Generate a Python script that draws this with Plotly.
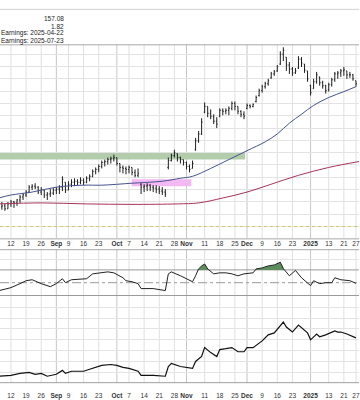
import plotly.graph_objects as go

# ---------------- data ----------------
# trading-day index (0 = 2024-08-12)
bar_idx = list(range(-4, 115))
bar_open = [132.4,132.0,132.2,131.6,132.6,133.0,132.8,133.4,134.0,134.4,135.0,136.0,136.2,136.0,135.0,135.4,134.4,134.6,134.8,135.4,
            135.6,136.0,137.0,135.4,136.6,137.0,137.2,137.0,137.4,137.0,137.8,138.2,139.2,139.6,140.2,141.0,141.2,141.6,141.8,142.0,
            140.8,140.0,139.8,139.6,140.0,139.0,138.4,136.6,136.0,136.2,136.4,136.0,135.8,135.6,135.2,135.0,140.0,141.4,142.4,142.8,
            142.0,141.6,141.0,140.2,139.8,143.6,145.4,146.8,151.2,152.4,151.0,150.4,149.4,150.4,151.6,151.4,151.6,152.0,153.0,152.4,
            151.4,150.8,152.0,152.6,152.4,153.4,154.6,155.6,156.4,157.0,158.2,159.0,159.6,161.0,163.0,162.4,160.8,160.0,159.2,160.2,
            162.0,161.0,159.6,156.6,156.0,157.4,158.4,157.2,156.6,155.8,156.8,157.8,159.0,159.2,159.6,159.6,158.8,158.8,157.6]
bar_high = [132.8,133.0,132.6,133.0,133.4,133.2,133.6,134.4,134.8,135.4,136.4,136.6,136.8,136.2,136.0,135.4,135.0,135.6,135.8,136.0,
            136.4,138.2,137.0,137.2,137.6,137.8,137.6,138.0,137.8,138.2,138.6,139.6,140.0,140.6,141.4,141.6,142.0,142.2,142.6,142.0,
            140.8,140.4,140.2,140.4,140.0,139.6,139.8,136.8,136.6,136.8,136.6,136.4,136.4,136.2,136.0,135.6,142.0,142.8,143.6,142.8,
            142.2,141.6,141.2,140.6,141.4,146.0,147.4,150.0,153.2,152.4,151.8,150.8,150.2,152.0,152.0,152.0,152.4,153.4,153.4,152.4,
            151.6,151.4,153.0,152.8,153.0,154.6,156.0,156.8,157.4,158.0,159.4,159.8,160.8,163.6,164.4,162.4,161.4,160.4,160.2,162.6,
            162.4,161.0,159.6,156.8,158.0,159.4,158.4,157.6,156.8,157.2,158.2,159.4,159.6,160.0,160.4,159.6,159.4,159.0,157.6]
bar_low = [131.2,131.4,131.2,131.6,132.0,131.8,132.2,132.8,133.4,134.0,134.8,135.4,135.6,134.6,134.4,133.8,133.4,134.0,134.4,134.6,
           134.6,135.2,134.8,135.4,136.0,136.2,136.4,136.6,136.4,136.8,137.2,138.0,138.6,139.0,139.8,140.2,140.6,140.8,141.2,140.4,
           139.0,138.8,138.6,138.8,138.4,138.0,138.0,134.6,135.0,135.2,135.2,135.0,134.8,134.6,134.4,134.0,139.6,141.2,142.0,141.2,
           140.8,140.4,139.6,139.0,139.8,143.4,145.0,146.6,151.0,150.2,149.8,148.8,148.0,150.2,150.6,150.8,150.6,151.6,151.6,150.8,
           150.2,149.8,151.8,152.0,152.2,153.2,154.4,155.2,156.0,156.6,158.0,158.6,159.4,160.8,161.6,159.6,159.0,158.6,159.0,160.0,
           160.4,159.2,157.4,154.6,156.0,157.0,156.6,156.0,155.0,155.4,156.4,157.4,158.0,158.4,158.6,158.0,158.2,157.6,156.4]
bar_close = [132.0,132.2,131.6,132.6,133.0,132.8,133.4,134.0,134.4,135.0,136.0,136.2,136.0,135.0,135.6,134.4,134.6,134.8,135.4,135.6,
             136.0,137.6,135.4,136.6,137.0,137.2,137.0,137.4,137.0,137.8,138.2,139.2,139.6,140.2,141.0,141.2,141.6,141.8,142.0,140.8,
             140.0,139.8,139.6,140.0,139.0,138.4,138.8,136.0,136.2,136.4,136.0,135.8,135.6,135.2,135.0,134.6,141.4,142.4,143.0,142.0,
             141.6,141.0,140.2,139.6,140.8,145.4,146.8,149.2,152.4,151.0,150.4,149.4,148.8,151.6,151.4,151.6,152.0,153.0,152.4,151.4,
             150.8,150.4,152.6,152.4,152.8,154.2,155.6,156.4,157.0,157.6,159.0,159.4,160.4,163.0,163.8,160.8,160.0,159.2,159.6,162.0,
             161.2,159.8,158.0,155.2,157.4,158.8,157.2,156.6,155.6,156.8,157.8,159.0,159.2,159.6,159.8,158.8,158.8,158.0,157.0]

ma50_idx = [-4, 0, 7, 15, 24, 30, 40, 50, 56, 60, 66, 72, 78, 84, 88, 92, 96, 100, 105, 110, 114]
ma50_val = [133.8,134.4,135.0,136.0,136.4,136.4,136.8,137.2,137.8,138.2,139.8,141.6,143.4,145.2,146.8,149.0,150.8,152.6,154.2,155.4,156.4]

ma200_idx = [-4, 10, 25, 40, 55, 62, 70, 78, 86, 95, 105, 115]
ma200_val = [132.6,132.8,132.6,132.5,132.6,132.8,133.8,135.0,136.6,138.4,140.0,141.2]

rsi_idx = [-4,0,3,5,7,10,13,15,17,18,20,23,25,27,29,32,34,37,38,40,42,43,47,51,52,53,56,58,60,61,62,63,64,65,66,67,69,71,73,75,
           77,80,81,83,85,87,89,90,92,94,96,98,99,100,102,104,106,107,109,112,114]
rsi_val = [37.5,42.3,48.5,53.1,54.6,48.5,43.8,48.5,56.2,50.0,54.6,56.2,56.2,63.8,65.4,66.9,65.4,57.7,53.1,51.5,48.5,40.8,40.8,37.7,63.8,66.9,
           60.8,56.2,51.5,60.8,71.5,76.2,79.2,71.5,66.9,63.8,65.4,65.4,63.8,60.8,63.8,65.4,71.5,73.1,76.2,77.7,82.0,72.0,60.8,69.2,57.7,
           50.0,45.4,53.1,48.5,50.0,50.0,57.7,54.6,53.1,49.0]

perf_idx = [-4,0,3,6,8,10,12,15,17,18,20,24,26,28,30,33,35,37,39,42,43,47,51,52,53,56,60,61,63,64,66,68,69,71,73,75,77,78,80,83,
            85,87,90,91,93,95,97,98,99,101,102,104,107,108,109,111,114]
perf_val = [3.2,3.6,4.5,5.0,4.1,4.5,3.2,4.1,5.9,4.5,5.5,5.5,6.4,7.3,8.2,8.6,8.2,7.3,6.8,5.5,3.6,3.6,3.2,7.7,9.1,7.7,6.8,10.0,12.3,16.4,
            14.1,12.3,15.5,15.9,16.4,14.5,14.5,16.4,16.4,19.5,22.3,23.2,28.2,25.9,23.6,26.8,24.5,23.2,20.0,22.7,21.4,22.3,24.1,23.6,23.6,22.7,20.9]

tick_idx = [0,5,10,15,19,24,29,35,39,44,49,54,58,64,69,74,78,83,88,93,99,105,110,114]
tick_txt = ["12","19","26","<b>Sep</b>","9","16","23","<b>Oct</b>","7","14","21","28","<b>Nov</b>",
            "11","18","25","<b>Dec</b>","9","16","23","<b>2025</b>","13","21","27"]
month_idx = [15, 35, 58, 78, 99]

info_lines = ["157.08", "1.82", "Earnings: 2025-04-22", "Earnings: 2025-07-23"]

resist_band = (141.6, 143.0, 77.4)     # low, high, end index
support_band = (136.2, 137.6, 39.9, 59.6)
dotted_level = 128.0
rsi_levels = (70, 50, 30)

# ---------------- layout helpers ----------------
W, H = 360, 400
def py(px):
    return 1 - px / H

XR = [-3.62, 115.0]
FONT = "Liberation Sans, Arial, sans-serif"

fig = go.Figure()

# price panel
fig.add_trace(go.Ohlc(x=bar_idx, open=bar_open, high=bar_high, low=bar_low, close=bar_close,
                      increasing=dict(line=dict(color="#1f1f1f", width=1)),
                      decreasing=dict(line=dict(color="#1f1f1f", width=1)),
                      tickwidth=0.3, xaxis="x", yaxis="y", showlegend=False, hoverinfo="skip"))
fig.add_trace(go.Scatter(x=ma50_idx, y=ma50_val, mode="lines", line=dict(color="#46538f", width=1, shape="spline"),
                         xaxis="x", yaxis="y", showlegend=False, hoverinfo="skip"))
fig.add_trace(go.Scatter(x=ma200_idx, y=ma200_val, mode="lines", line=dict(color="#a8325a", width=1, shape="spline"),
                         xaxis="x", yaxis="y", showlegend=False, hoverinfo="skip"))

# RSI fill above 70
lvl = rsi_levels[0]
fx, fy = [], []
for k in range(len(rsi_idx)):
    if k > 0:
        a, b = rsi_val[k - 1], rsi_val[k]
        if (a - lvl) * (b - lvl) < 0:
            t = (lvl - a) / (b - a)
            fx.append(rsi_idx[k - 1] + t * (rsi_idx[k] - rsi_idx[k - 1]))
            fy.append(lvl)
    fx.append(rsi_idx[k])
    fy.append(max(rsi_val[k], lvl))
fig.add_trace(go.Scatter(x=fx, y=[lvl] * len(fx), mode="lines", line=dict(width=0), xaxis="x2", yaxis="y2",
                         showlegend=False, hoverinfo="skip"))
fig.add_trace(go.Scatter(x=fx, y=fy, mode="lines", line=dict(width=0), fill="tonexty", fillcolor="#5d8c5d",
                         xaxis="x2", yaxis="y2", showlegend=False, hoverinfo="skip"))
fig.add_trace(go.Scatter(x=rsi_idx, y=rsi_val, mode="lines", line=dict(color="#222222", width=1),
                         xaxis="x2", yaxis="y2", showlegend=False, hoverinfo="skip"))

# bottom panel
fig.add_trace(go.Scatter(x=perf_idx, y=perf_val, mode="lines", line=dict(color="#111111", width=1.2),
                         xaxis="x3", yaxis="y3", showlegend=False, hoverinfo="skip"))

shapes = []
# vertical week / month lines (drawn as shapes so month lines can be darker)
for ax_x, ax_y in (("x", "y"), ("x2", "y2"), ("x3", "y3")):
    for m in tick_idx:
        col = "#c6c6c6" if m in month_idx else "#e0e0e0"
        shapes.append(dict(type="line", xref=ax_x, yref=ax_y + " domain", x0=m, x1=m, y0=0, y1=1,
                           line=dict(color=col, width=1), layer="below"))
# bands and levels
shapes.append(dict(type="rect", xref="paper", yref="y", x0=0, x1=(resist_band[2] - XR[0]) / (XR[1] - XR[0]),
                   y0=resist_band[0], y1=resist_band[1], fillcolor="#b3cdac", line=dict(width=0), layer="below"))
shapes.append(dict(type="rect", xref="x", yref="y", x0=support_band[2], x1=support_band[3],
                   y0=support_band[0], y1=support_band[1], fillcolor="#f3b9f3", line=dict(width=0), layer="below"))
shapes.append(dict(type="line", xref="paper", yref="y", x0=0, x1=1, y0=dotted_level, y1=dotted_level,
                   line=dict(color="#d6c860", width=1, dash="dot"), layer="above"))
# RSI levels
shapes.append(dict(type="line", xref="paper", yref="y2", x0=0, x1=1, y0=rsi_levels[0], y1=rsi_levels[0],
                   line=dict(color="#9a9a9a", width=1), layer="below"))
shapes.append(dict(type="line", xref="paper", yref="y2", x0=0, x1=1, y0=rsi_levels[1], y1=rsi_levels[1],
                   line=dict(color="#9a9a9a", width=1, dash="dashdot"), layer="below"))
shapes.append(dict(type="line", xref="paper", yref="y2", x0=0, x1=1, y0=rsi_levels[2], y1=rsi_levels[2],
                   line=dict(color="#9a9a9a", width=1), layer="below"))
# panel borders
for ypx, col in ((9.5, "#d0d0d0"), (45.5, "#a8a8a8"), (242.5, "#a8a8a8"), (253.5, "#a8a8a8"), (388.5, "#a0a0a0")):
    shapes.append(dict(type="line", xref="paper", yref="paper", x0=0, x1=1, y0=py(ypx), y1=py(ypx),
                       line=dict(color=col, width=1)))

annotations = []
for k, t in enumerate(info_lines):
    annotations.append(dict(text=t, xref="paper", yref="paper", x=65 / W, y=py(19 + k * 7.4), xanchor="right",
                            yanchor="middle", showarrow=False, borderpad=0,
                            font=dict(family=FONT, size=6.5, color="#222222")))

grid = "#e3e3e3"
common_x = dict(range=XR, tickmode="array", tickvals=tick_idx, ticktext=tick_txt, showgrid=False,
                zeroline=False, ticks="", showline=False, fixedrange=True, tickangle=0,
                ticklabeloverflow="allow",
                tickfont=dict(family=FONT, size=6.5, color="#333333"))

fig.update_layout(
    width=W, height=H, margin=dict(l=0, r=0, t=0, b=0), paper_bgcolor="white", plot_bgcolor="white",
    showlegend=False,
    xaxis=dict(common_x, domain=[0, 1], anchor="y", showticklabels=True, rangeslider=dict(visible=False)),
    xaxis2=dict(common_x, domain=[0, 1], anchor="y2", showticklabels=False, matches="x"),
    xaxis3=dict(common_x, domain=[0, 1], anchor="y3", showticklabels=True, matches="x", ticklabelstandoff=7),
    yaxis=dict(domain=[py(242), py(45)], range=[174 - 0.2 * 242, 174 - 0.2 * 45], tick0=163, dtick=2.5,
               showgrid=True, gridcolor=grid, zeroline=False, showticklabels=False, fixedrange=True),
    yaxis2=dict(domain=[py(301), py(253)], range=[50 + (287 - 301) / 0.65, 50 + (287 - 253) / 0.65],
                tickmode="array", tickvals=[50 + (287 - 263) / 0.65], showgrid=True, gridcolor=grid,
                zeroline=False, showticklabels=False, fixedrange=True),
    yaxis3=dict(domain=[py(389), py(301)], range=[0, 40], dtick=5, showgrid=True, gridcolor=grid,
                zeroline=False, showticklabels=False, fixedrange=True),
    shapes=shapes, annotations=annotations,
)

fig.write_html("out.html", config={"displayModeBar": False},
               post_script="document.body.style.margin='0px';document.body.style.padding='0px';")
